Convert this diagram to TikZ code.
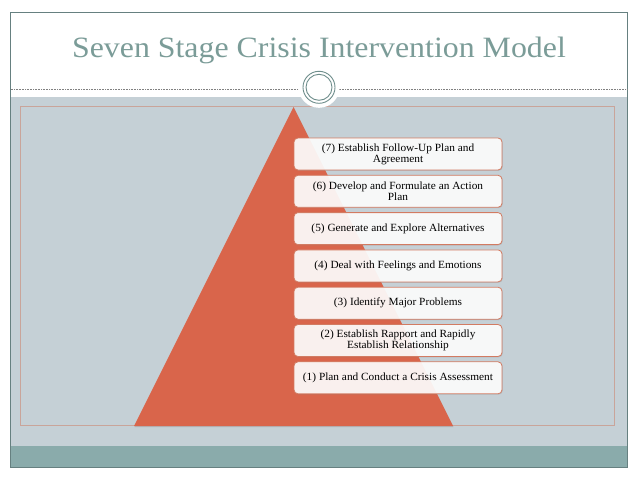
\documentclass[tikz,border=0pt]{standalone}
\usepackage{fontspec}
\setmainfont{Liberation Serif}
\newfontfamily\titlefont[FakeStretch=1.08]{Liberation Serif}
\newfontfamily\stagefont[FakeStretch=1.03]{Liberation Serif}
\usepackage{xcolor}
\usepackage{tikz}
\usetikzlibrary{positioning}
\usetikzlibrary{shadows}

\definecolor{slidegray}{HTML}{C5D0D6}
\definecolor{bandteal}{HTML}{8AABAB}
\definecolor{titleteal}{HTML}{7B9C98}
\definecolor{ringteal}{HTML}{6F8E8C}
\definecolor{pyramidred}{HTML}{D9654B}
\definecolor{boxline}{HTML}{D27B62}
\definecolor{innerline}{HTML}{C9A49A}

\tikzset{
	stage/.style={draw=boxline,line width=0.8pt,fill=white,fill opacity=0.9,text opacity=1,
		rounded corners=4pt,minimum width=208pt,minimum height=32pt,
		align=center,font=\stagefont\fontsize{11}{11}\selectfont,inner sep=2pt,
		drop shadow={opacity=0.25,shadow xshift=0.8pt,shadow yshift=-0.8pt}},
}

\begin{document}
\begin{tikzpicture}[x=1pt,y=-1pt]
	\useasboundingbox (0,0) rectangle (638,479);
	\fill[white] (0,0) rectangle (638,479);
	\fill[slidegray] (10.7,97) rectangle (627,446);
	\fill[bandteal] (10.7,446) rectangle (627,467);
	\draw[gray!80!teal,line width=0.6pt] (10.7,12) rectangle (627,467);
	\draw[innerline,line width=0.6pt] (20.7,106.7) rectangle (614,425);
	\node[titleteal,font=\titlefont\fontsize{29.5}{34}\selectfont,anchor=base] (title) at (319,57.3) {Seven Stage Crisis Intervention Model};
	\draw[gray,line width=0.5pt,dash pattern=on 0.8pt off 0.8pt] (10.7,89) -- (627,89);
	\fill[white] (319,87.3) circle (20.5);
	\draw[ringteal,line width=0.9pt] (319,87.3) circle (16);
	\draw[ringteal,line width=0.9pt] (319,87.3) circle (13);
	\fill[pyramidred,drop shadow={opacity=0.3,shadow xshift=0.5pt,shadow yshift=-1.2pt}] (293.5,107) -- (453,426) -- (134,426) -- cycle;
	\node[stage] (s7) at (398,154) {(7) Establish Follow-Up Plan and\\Agreement};
	\node[stage,below=4.5pt of s7] (s6) {(6) Develop and Formulate an Action\\Plan};
	\node[stage,below=4.5pt of s6] (s5) {(5) Generate and Explore Alternatives};
	\node[stage,below=4.5pt of s5] (s4) {(4) Deal with Feelings and Emotions};
	\node[stage,below=4.5pt of s4] (s3) {(3) Identify Major Problems};
	\node[stage,below=4.5pt of s3] (s2) {(2) Establish Rapport and Rapidly\\Establish Relationship};
	\node[stage,below=4.5pt of s2] (s1) {(1) Plan and Conduct a Crisis Assessment};
\end{tikzpicture}
\end{document}
